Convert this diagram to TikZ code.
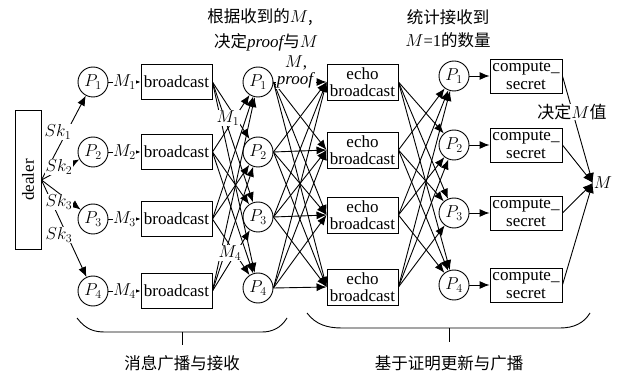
\documentclass[tikz,border=0pt]{standalone}
\usepackage{fontspec}
\setmainfont{Liberation Serif}
\newfontfamily\cjk{Noto Sans CJK SC}
\usetikzlibrary{arrows.meta}
\begin{document}
\begin{tikzpicture}[x=1pt,y=-1pt,
  every node/.style={font=\fontsize{17}{17.5}\selectfont},
  pnode/.style={circle,draw,line width=0.9pt,minimum size=30pt,inner sep=0pt},
  boxn/.style={draw,line width=0.9pt,minimum width=71pt,minimum height=35pt,inner sep=0pt,align=center},
  arr/.style={-{Latex[length=10pt,width=8pt]},line width=0.9pt},
  sarr/.style={-{Latex[length=6pt,width=5pt]},line width=0.9pt},
  lbl/.style={fill=white,inner sep=1pt},
  cjkl/.style={font=\fontsize{16.5}{17}\selectfont\cjk}]
\useasboundingbox (0,0) rectangle (627,374);

% dealer
\node[draw,line width=0.9pt,minimum width=26pt,minimum height=139pt,inner sep=0pt] (dealer) at (28,180) {};
\node[rotate=90] (dtext) at (dealer.center) {dealer};

% column 1
\foreach \i/\y in {1/82,2/152,3/219,4/291}{
  \node[pnode] (p\i) at (93,\y) {$P_{\i}$};
  \node[boxn] (b\i) at (176.5,\y) {broadcast};
}
\foreach \i in {1,...,4}{
  \draw[sarr] (p\i.east) -- node[lbl,inner sep=0pt] (ml\i) {$M_{\i}$} (b\i.west);
}

% dealer arrows
\foreach \i in {1,...,4}{
  \draw[arr] (dealer.east) -- (p\i);
}
\node[lbl] (sk1) at (58,132) {$Sk_1$};
\node[lbl] (sk2) at (59,167) {$Sk_2$};
\node[lbl] (sk3) at (59,202) {$Sk_3$};
\node[lbl] (sk4) at (59,235) {$Sk_3$};

% column 2
\foreach \i/\y in {1/82,2/152,3/217,4/288}{
  \node[pnode] (q\i) at (258,\y) {$P_{\i}$};
}
\foreach \i in {1,...,4}{
  \foreach \j in {1,...,4}{
    \ifnum\i=\j\else
      \draw[arr] (b\i.east) -- (q\j);
    \fi
  }
}
\node[lbl,inner sep=0.5pt] (mq1) at (228,118) {$M_1$};
\node[lbl,inner sep=0.5pt] (mq4) at (230,253) {$M_4$};

% echo boxes
\foreach \i/\y in {1/82,2/150,3/215,4/287}{
  \node[boxn,minimum height=36pt] (e\i) at (362.5,\y) {echo\\broadcast};
}
\foreach \i in {1,...,4}{
  \foreach \j in {1,...,4}{
    \draw[arr] (q\i.east) -- (e\j.west);
  }
}
\node[lbl,align=center,inner sep=0.5pt] (mproof) at (296,72) {$M$,\\\textit{proof}};

% column 3
\foreach \i/\y in {1/76,2/145,3/213,4/285}{
  \node[pnode] (r\i) at (454,\y) {$P_{\i}$};
  \node[boxn,minimum width=72pt,minimum height=34pt] (c\i) at (526,\y) {compute\_\\secret};
}
\foreach \i in {1,...,4}{
  \foreach \j in {1,...,4}{
    \ifnum\i=\j\else
      \draw[arr] (e\i.east) -- (r\j);
    \fi
  }
  \draw[arr] (r\i.east) -- (c\i.west);
}

% M output
\node[inner sep=1pt] (mout) at (603,183) {$M$};
\foreach \i in {1,...,4}{
  \draw[arr] (c\i.east) -- (mout.west);
}
\node[lbl,inner sep=0.5pt] (dec) at (572,112) {{\cjk 决定}$M${\cjk 值}};

% top labels
\node[cjkl] (t1) at (260,17) {根据收到的$M$,};
\node[cjkl] (t2) at (266,42) {决定{\rmfamily\itshape\fontsize{17}{17}\selectfont proof}与$M$};
\node[cjkl] (t3) at (448,17) {统计接收到};
\node[cjkl] (t4) at (448,40) {$M${\rmfamily =1}的数量};

% braces
\draw[line width=0.9pt] (77,318) .. controls (86,330) and (95,332) .. (105,332) -- (262,332) .. controls (272,332) and (281,328) .. (287,318);
\draw[line width=0.9pt] (182,332) -- (182,345);
\draw[line width=0.9pt] (307,313) .. controls (316,325) and (328,328) .. (342,328) -- (560,328) .. controls (574,328) and (584,323) .. (590,313);
\draw[line width=0.9pt] (449,328) -- (449,342);
\node[cjkl] (bt1) at (182,363) {消息广播与接收};
\node[cjkl] (bt2) at (449,363) {基于证明更新与广播};
\end{tikzpicture}
\end{document}
